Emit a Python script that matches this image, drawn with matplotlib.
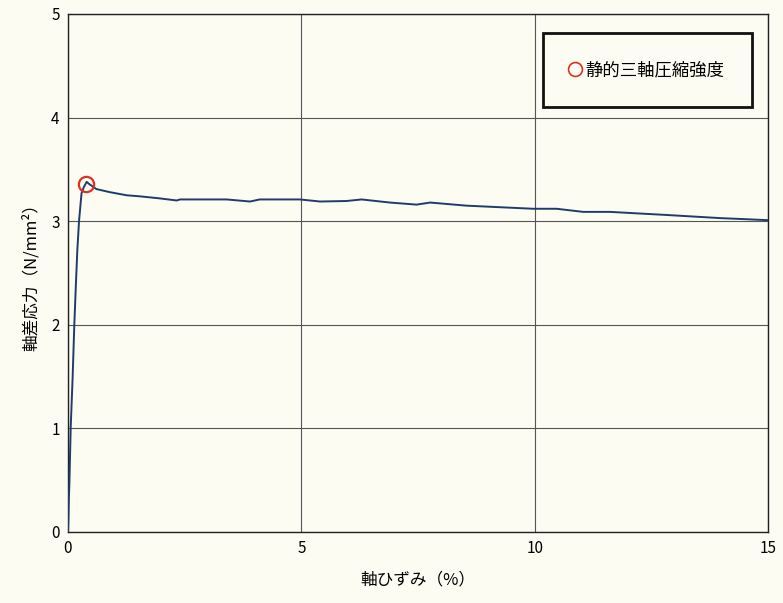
import matplotlib
matplotlib.use("Agg")
import matplotlib.pyplot as plt

plt.rcParams['font.family'] = ['Noto Sans CJK JP', 'DejaVu Sans']

strain = [0.0, 0.01, 0.02, 0.03, 0.058, 0.10, 0.135, 0.17, 0.2, 0.236, 0.29, 0.34, 0.40,
          0.45, 0.61, 0.9, 1.26, 1.54, 1.97, 2.33, 2.4, 3.4, 3.9, 4.11, 4.97, 5.4,
          5.97, 6.29, 6.9, 7.47, 7.76, 8.54, 9.97, 10.47, 11.04, 11.61, 12.83, 13.97, 15.0]
stress = [0.0, 0.15, 0.35, 0.47, 1.01, 1.5, 2.0, 2.4, 2.72, 3.0, 3.27, 3.33, 3.38,
          3.36, 3.31, 3.28, 3.25, 3.24, 3.22, 3.20, 3.21, 3.21, 3.19, 3.21, 3.21, 3.19,
          3.195, 3.21, 3.18, 3.16, 3.18, 3.15, 3.12, 3.12, 3.09, 3.09, 3.06, 3.03, 3.01]

peak_strain = [0.38]
peak_stress = [3.36]

xticks = [0, 5, 10, 15]
yticks = [0, 1, 2, 3, 4, 5]

bg = '#fcfcf3'
fig = plt.figure(figsize=(7.83, 6.03), dpi=100, facecolor=bg)
ax = fig.add_axes([68/783, 1-532/603, 700/783, 518/603], facecolor=bg)

ax.plot(strain, stress, color='#1f3d6b', lw=1.4, zorder=3)
ax.plot(peak_strain, peak_stress, linestyle='none', marker='o', markersize=11,
        markerfacecolor='none', markeredgecolor='#e03020', markeredgewidth=1.6,
        zorder=4)
ax.plot([], [], linestyle='none', marker='o', markersize=10,
        markerfacecolor='none', markeredgecolor='#e03020', markeredgewidth=1.2,
        label='静的三軸圧縮強度')

ax.set_xlim(0, 15)
ax.set_ylim(0, 5)
ax.set_xticks(xticks)
ax.set_yticks(yticks)
ax.grid(True, color='#555555', lw=0.8)
ax.tick_params(length=0, labelsize=11, pad=6)
for s in ax.spines.values():
    s.set_color('#222222')
    s.set_linewidth(1.0)

ax.set_xlabel('軸ひずみ（%）', fontsize=12, labelpad=10)
ax.set_ylabel('軸差応力（N/mm²）', fontsize=12, labelpad=8)

leg = ax.legend(loc='upper right', bbox_to_anchor=(0.977, 0.963), fontsize=12.5,
                fancybox=False, framealpha=1, facecolor=bg, edgecolor='#111111',
                handlelength=0.55, handletextpad=0.3, borderpad=1.6, borderaxespad=0)
leg.get_frame().set_linewidth(2)

fig.savefig('out.png', dpi=100, facecolor=bg)
